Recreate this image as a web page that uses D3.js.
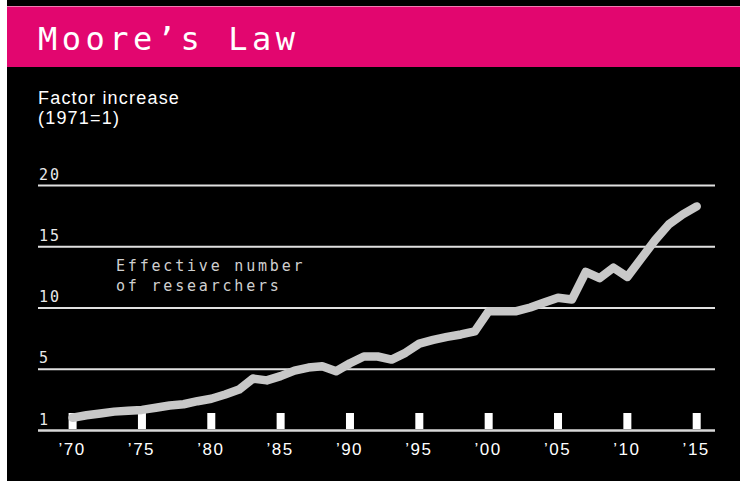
<!DOCTYPE html>
<html>
<head>
<meta charset="utf-8">
<script src="https://cdn.jsdelivr.net/npm/d3@7"></script>
<style>
  html, body { margin: 0; padding: 0; background: #fff; }
  svg { display: block; }
</style>
</head>
<body>
<svg id="chart"></svg>
<script>
// chart data
const years = d3.range(1970, 2016);
const researchers = [
  1.0, 1.2, 1.35, 1.5, 1.58, 1.64, 1.82, 2.0, 2.1, 2.35,
  2.55, 2.9, 3.3, 4.2, 4.05, 4.4, 4.85, 5.1, 5.2, 4.8,
  5.45, 6.0, 6.0, 5.75, 6.3, 7.05, 7.35, 7.6, 7.8, 8.05,
  9.7, 9.7, 9.7, 10.0, 10.4, 10.8, 10.65, 12.9, 12.4, 13.25,
  12.5, 14.0, 15.5, 16.8, 17.6, 18.25
];
const yTicks = [0, 5, 10, 15, 20];
const yTickLabels = ["1", "5", "10", "15", "20"];
const xTicks = [1970, 1975, 1980, 1985, 1990, 1995, 2000, 2005, 2010, 2015];
const xTickLabels = ["\u201970", "\u201975", "\u201980", "\u201985", "\u201990",
  "\u201995", "\u201900", "\u201905", "\u201910", "\u201915"];

const W = 740, H = 481;
const mono = "'DejaVu Sans Mono', monospace";
const sans = "'Liberation Sans', Arial, sans-serif";

const svg = d3.select("#chart").attr("width", W).attr("height", H);

// background panel + title band
svg.append("rect").attr("x", 7).attr("y", 0).attr("width", W - 7).attr("height", H).attr("fill", "#000");
svg.append("rect").attr("x", 7).attr("y", 6).attr("width", W - 7).attr("height", 61).attr("fill", "#e2066f");
svg.append("line").attr("x1", 7).attr("x2", W).attr("y1", 6.5).attr("y2", 6.5)
  .attr("stroke", "#f07ab0").attr("stroke-width", 1);

svg.append("text")
  .attr("x", 38).attr("y", 50)
  .attr("fill", "#fff")
  .style("font-family", mono).style("font-size", "32px").style("letter-spacing", "4.5px")
  .text("Moore\u2019s Law");

svg.append("text")
  .attr("x", 38).attr("y", 104)
  .attr("fill", "#fff")
  .style("font-family", sans).style("font-size", "18px").style("letter-spacing", "1.2px")
  .text("Factor increase");
svg.append("text")
  .attr("x", 38).attr("y", 124)
  .attr("fill", "#fff")
  .style("font-family", sans).style("font-size", "18px").style("letter-spacing", "1.2px")
  .text("(1971=1)");

// scales
const left = 38, right = 715;
const x = d3.scaleLinear().domain([1970, 2015]).range([72.6, 696.7]);
const y = d3.scaleLinear().domain([0, 20]).range([430, 185]);

// horizontal gridlines with labels on top
const yAxis = svg.append("g")
  .attr("transform", `translate(${left},0)`)
  .call(d3.axisRight(y).tickValues(yTicks).tickSize(right - left)
    .tickFormat((d, i) => yTickLabels[i]));
yAxis.select(".domain").remove();
yAxis.selectAll(".tick line").attr("stroke", "#e0e0e0").attr("stroke-width", 2);
yAxis.selectAll(".tick text")
  .attr("x", 1).attr("dy", null).attr("y", -6)
  .attr("text-anchor", "start")
  .attr("fill", "#e8e8e8")
  .style("font-family", mono).style("font-size", "15px").style("letter-spacing", "2px");
yAxis.selectAll(".tick").filter(d => d === 0).select("line")
  .attr("stroke", "#d8d8d8").attr("stroke-width", 2.5);

// year tick marks
svg.append("g").selectAll("rect")
  .data(xTicks)
  .enter().append("rect")
  .attr("x", d => x(d) - 4)
  .attr("y", y(0) - 17)
  .attr("width", 8)
  .attr("height", 16)
  .attr("fill", "#fff");

const xAxis = svg.append("g")
  .attr("transform", `translate(0,${y(0)})`)
  .call(d3.axisBottom(x).tickValues(xTicks).tickSize(0)
    .tickFormat((d, i) => xTickLabels[i]));
xAxis.select(".domain").remove();
xAxis.selectAll(".tick text")
  .attr("y", 25).attr("dy", null).attr("dx", -1)
  .attr("fill", "#fff")
  .style("font-family", sans).style("font-size", "17px").style("letter-spacing", "1.5px");

// series line
const line = d3.line()
  .x((d, i) => x(years[i]))
  .y(d => y(d));

svg.append("path")
  .datum(researchers)
  .attr("d", line)
  .attr("fill", "none")
  .attr("stroke", "#c8c8c8")
  .attr("stroke-width", 8.5)
  .attr("stroke-linejoin", "round")
  .attr("stroke-linecap", "round");

// annotation
const note = svg.append("text")
  .attr("fill", "#d0d0d0")
  .style("font-family", mono).style("font-size", "15px").style("letter-spacing", "2.8px");
note.append("tspan").attr("x", 116).attr("y", 271).text("Effective number");
note.append("tspan").attr("x", 116).attr("y", 291).text("of researchers");
</script>
</body>
</html>
